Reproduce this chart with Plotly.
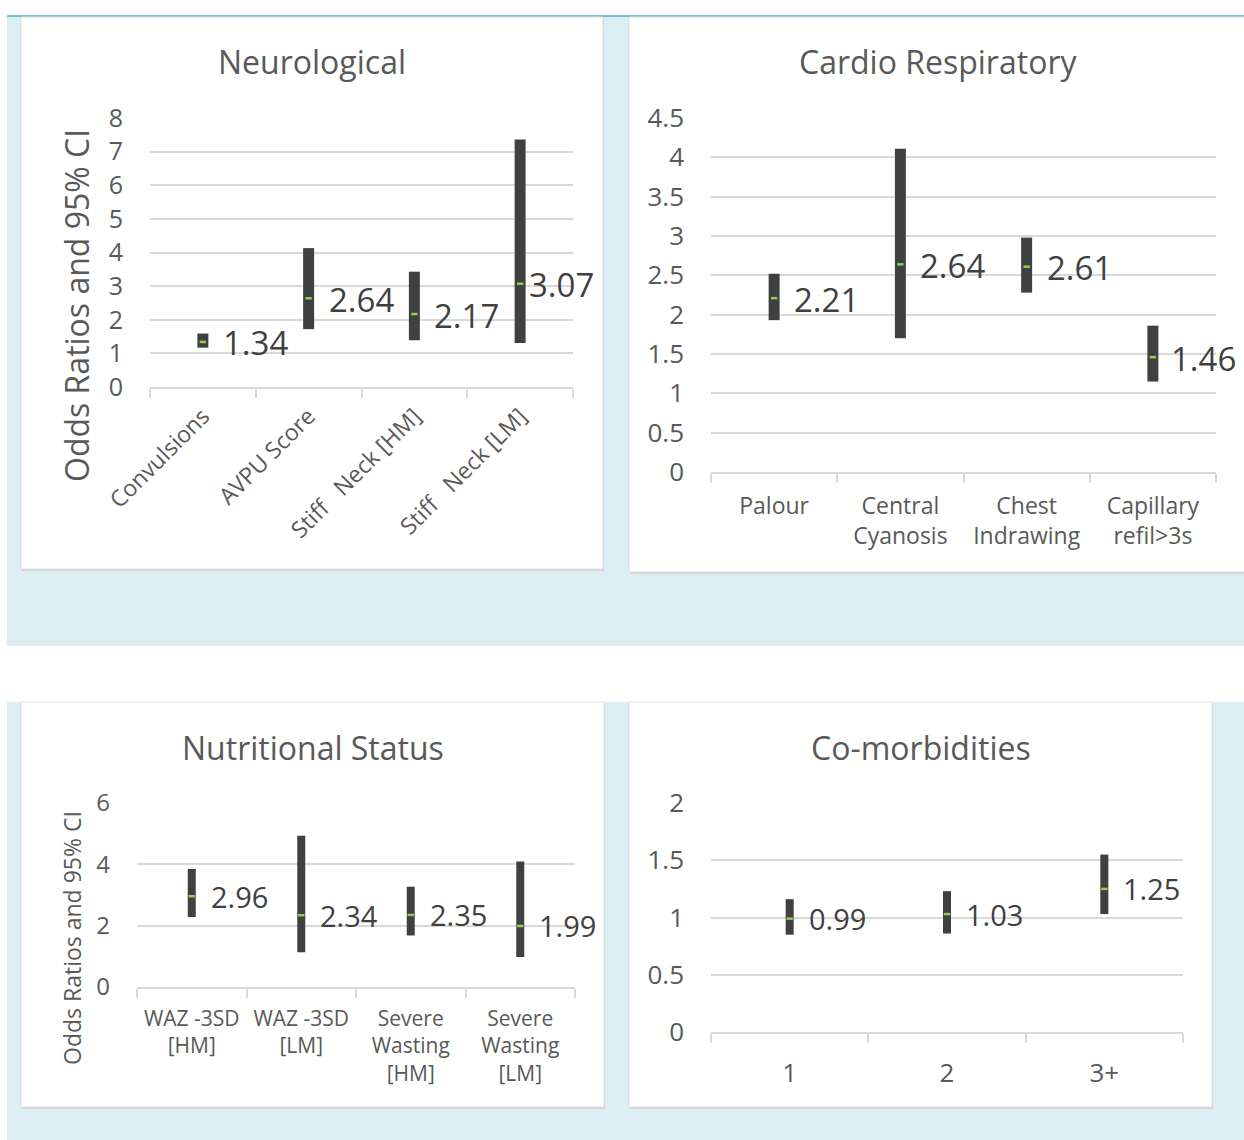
import plotly.graph_objects as go

W, H = 1244, 1140

# ---- data: odds ratios with lower / upper 95% confidence limits ----
neuro_cats = ["Convulsions", "AVPU Score", "Stiff\u00a0\u00a0 Neck [HM]", "Stiff\u00a0\u00a0 Neck [LM]"]
neuro_or = [1.34, 2.64, 2.17, 3.07]
neuro_lo = [1.17, 1.72, 1.39, 1.31]
neuro_hi = [1.59, 4.13, 3.43, 7.36]

cardio_cats = ["Palour", "Central<br>Cyanosis", "Chest<br>Indrawing", "Capillary<br>refil>3s"]
cardio_or = [2.21, 2.64, 2.61, 1.46]
cardio_lo = [1.93, 1.70, 2.28, 1.15]
cardio_hi = [2.52, 4.11, 2.98, 1.86]

nutri_cats = ["WAZ -3SD<br>[HM]", "WAZ -3SD<br>[LM]", "Severe<br>Wasting<br>[HM]", "Severe<br>Wasting<br>[LM]"]
nutri_or = [2.96, 2.34, 2.35, 1.99]
nutri_lo = [2.28, 1.13, 1.68, 0.98]
nutri_hi = [3.85, 4.93, 3.27, 4.09]

comorb_cats = ["1", "2", "3+"]
comorb_or = [0.99, 1.03, 1.25]
comorb_lo = [0.85, 0.86, 1.03]
comorb_hi = [1.16, 1.23, 1.55]

FONT = "Open Sans"
TEXT_GREY = "#595959"
LABEL_GREY = "#404040"
GRID = "#D9D9D9"
BAR = "#404040"
MARK = "#92D050"
PANEL_BG = "#DAEEF3"
ACCENT = "#4BACC6"


def fx(px):
    return px / W


def fy(py):
    return 1 - py / H


# layout of each chart: plot-area pixel box, axis scale and styling
panels = [
    dict(title="Neurological", cats=neuro_cats, orv=neuro_or, lo=neuro_lo, hi=neuro_hi,
         box=(150, 573, 118, 387), ymax=8, dtick=1, barw=0.104,
         ytick_size=25, xtick_size=23, tickangle=-45, label_size=33, label_dy=-1,
         label_shift=[18, 18, 18, 7], title_xy=(312, 62),
         ytitle=dict(size=32, xy=(77, 306)), xstand=5),
    dict(title="Cardio Respiratory", cats=cardio_cats, orv=cardio_or, lo=cardio_lo, hi=cardio_hi,
         box=(711, 1216, 118, 472), ymax=4.5, dtick=0.5, barw=0.087,
         ytick_size=26, xtick_size=23, tickangle=0, label_size=33, label_dy=-1,
         label_shift=[18, 18, 18, 16], title_xy=(938, 62),
         ytitle=None, xstand=13),
    dict(title="Nutritional Status", cats=nutri_cats, orv=nutri_or, lo=nutri_lo, hi=nutri_hi,
         box=(137, 575, 803, 987), ymax=6, dtick=2, barw=0.073,
         ytick_size=24, xtick_size=21, tickangle=0, label_size=29, label_dy=0,
         label_shift=[17, 17, 17, 17], title_xy=(313, 747),
         ytitle=dict(size=23, xy=(72, 938)), xstand=12),
    dict(title="Co-morbidities", cats=comorb_cats, orv=comorb_or, lo=comorb_lo, hi=comorb_hi,
         box=(711, 1183, 803, 1032), ymax=2, dtick=0.5, barw=0.051,
         ytick_size=26, xtick_size=26, tickangle=0, label_size=29, label_dy=0,
         label_shift=[17, 17, 17], title_xy=(921, 747),
         ytitle=None, xstand=17),
]

fig = go.Figure()
shapes = []
annotations = []

# light-blue bands behind the two rows of charts, with the accent rule on top
shapes.append(dict(type="rect", xref="paper", yref="paper", layer="below",
                   x0=fx(7), x1=1, y0=fy(646), y1=fy(16),
                   fillcolor=PANEL_BG, line=dict(width=0)))
shapes.append(dict(type="rect", xref="paper", yref="paper", layer="below",
                   x0=fx(7), x1=1, y0=0, y1=fy(702),
                   fillcolor=PANEL_BG, line=dict(width=0)))
shapes.append(dict(type="line", xref="paper", yref="paper", layer="below",
                   x0=fx(7), x1=1, y0=fy(16), y1=fy(16),
                   line=dict(color=ACCENT, width=1.5)))

# white chart cards with a faint drop shadow
cards = [(21, 603, 17, 569), (629, 1248, 17, 572), (21, 604, 702, 1107), (629, 1212, 702, 1107)]
for (x0, x1, y0, y1) in cards:
    shapes.append(dict(type="rect", xref="paper", yref="paper", layer="below",
                       x0=fx(x0 + 1), x1=fx(x1 + 1), y0=fy(y1 + 2), y1=fy(y0 + 1),
                       fillcolor="#D4D4D4", line=dict(width=0)))
    shapes.append(dict(type="rect", xref="paper", yref="paper", layer="below",
                       x0=fx(x0), x1=fx(x1), y0=fy(y1), y1=fy(y0),
                       fillcolor="white", line=dict(color="#DEDEDE", width=1)))

for i, p in enumerate(panels, start=1):
    xa = "x" if i == 1 else f"x{i}"
    ya = "y" if i == 1 else f"y{i}"
    xl, xr, yt, yb = p["box"]

    # confidence interval drawn as a floating bar from lower to upper limit
    fig.add_trace(go.Bar(
        x=p["cats"], base=p["lo"],
        y=[h - l for h, l in zip(p["hi"], p["lo"])],
        width=p["barw"], marker=dict(color=BAR, line=dict(width=0)),
        xaxis=xa, yaxis=ya, showlegend=False, hoverinfo="skip"))

    # point estimate
    fig.add_trace(go.Scatter(
        x=p["cats"], y=p["orv"], mode="markers",
        marker=dict(symbol="line-ew", size=4.5, line=dict(color=MARK, width=2.5)),
        xaxis=xa, yaxis=ya, showlegend=False, hoverinfo="skip"))

    # value labels; on a category axis annotations are placed by category index
    for k, (v, sh) in enumerate(zip(p["orv"], p["label_shift"])):
        annotations.append(dict(
            x=k, y=v, xref=xa, yref=ya, text=f"{v:.2f}", showarrow=False,
            xanchor="left", yanchor="middle", xshift=sh, yshift=p["label_dy"],
            font=dict(family=FONT, size=p["label_size"], color=LABEL_GREY)))

    fig.update_layout({
        ("xaxis" if i == 1 else f"xaxis{i}"): dict(
            domain=[fx(xl), fx(xr)], anchor=ya, type="category", automargin=False,
            range=[-0.5, len(p["cats"]) - 0.5],
            showline=True, linecolor=GRID, linewidth=1.5,
            ticks="outside", tickson="boundaries", ticklen=9, tickwidth=1.5, tickcolor=GRID,
            showgrid=False, zeroline=False, tickangle=p["tickangle"],
            ticklabelstandoff=p["xstand"],
            tickfont=dict(family=FONT, size=p["xtick_size"], color=TEXT_GREY),
            fixedrange=True),
        ("yaxis" if i == 1 else f"yaxis{i}"): dict(
            domain=[fy(yb), fy(yt)], anchor=xa, range=[0, p["ymax"]], automargin=False,
            dtick=p["dtick"], tick0=0, showgrid=True, gridcolor=GRID, gridwidth=1.5,
            zeroline=False, showline=False, ticks="", ticklabelstandoff=26,
            tickfont=dict(family=FONT, size=p["ytick_size"], color=TEXT_GREY),
            fixedrange=True),
    })

    tx, ty = p["title_xy"]
    annotations.append(dict(
        x=fx(tx), y=fy(ty), xref="paper", yref="paper", text=p["title"],
        showarrow=False, xanchor="center", yanchor="middle",
        font=dict(family=FONT, size=32, color=TEXT_GREY)))

    if p["ytitle"]:
        ax_, ay_ = p["ytitle"]["xy"]
        annotations.append(dict(
            x=fx(ax_), y=fy(ay_), xref="paper", yref="paper",
            text="Odds Ratios and 95% CI", textangle=-90, showarrow=False,
            xanchor="center", yanchor="middle",
            font=dict(family=FONT, size=p["ytitle"]["size"], color=TEXT_GREY)))

fig.update_layout(
    width=W, height=H, margin=dict(l=0, r=0, t=0, b=0, pad=0),
    paper_bgcolor="white", plot_bgcolor="rgba(0,0,0,0)",
    barmode="overlay", shapes=shapes, annotations=annotations,
    font=dict(family=FONT, color=TEXT_GREY), showlegend=False,
)

fig.write_html("out.html", config={"displayModeBar": False})
